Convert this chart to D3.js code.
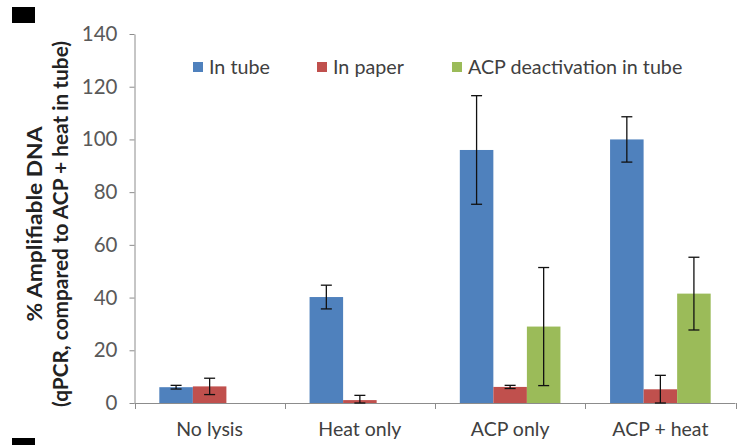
<!DOCTYPE html>
<html>
<head>
<meta charset="utf-8">
<script src="https://cdn.jsdelivr.net/npm/d3@7"></script>
<style>
  html, body { margin: 0; padding: 0; background: #fff; }
  svg { display: block; }
  text { font-family: Lato, "Open Sans", sans-serif; }
</style>
</head>
<body>
<svg id="chart" width="744" height="445"></svg>
<script>
// Lysis conditions along the x axis
const categories = ["No lysis", "Heat only", "ACP only", "ACP + heat"];
// Series names shown in the legend
const seriesNames = ["In tube", "In paper", "ACP deactivation in tube"];
const seriesColors = ["#4F81BD", "#C0504D", "#9BBB59"];

// % amplifiable DNA, with error bar half-widths (null = not measured)
const inTube      = [6.0, 40.2, 96.0, 100.0];
const inTubeErr   = [0.7, 4.5, 20.6, 8.6];
const inPaper     = [6.3, 1.1, 6.1, 5.2];
const inPaperErr  = [3.1, 1.8, 0.6, 5.3];
const acpDeact    = [null, null, 29.0, 41.5];
const acpDeactErr = [null, null, 22.4, 13.8];

const yTicks = [0, 20, 40, 60, 80, 100, 120, 140];

const valuesBySeries = [inTube, inPaper, acpDeact];
const errorsBySeries = [inTubeErr, inPaperErr, acpDeactErr];

const svg = d3.select("#chart");

const plot = { left: 134.5, right: 735.5, top: 34, bottom: 403 };

const y = d3.scaleLinear().domain([0, 140]).range([plot.bottom, plot.top]);
const x = d3.scaleBand().domain(categories).range([plot.left, plot.right]).padding(0);
const xInner = d3.scaleBand().domain(seriesNames).range([0, x.bandwidth()])
  .paddingInner(0).paddingOuter(0.74);

const axisColor = "#8c8c8c";
const tickTextColor = "#595959";

// Panel markers
svg.append("rect").attr("x", 12).attr("y", 7).attr("width", 23).attr("height", 16).attr("fill", "#000");
svg.append("rect").attr("x", 12).attr("y", 438).attr("width", 23).attr("height", 10).attr("fill", "#000");

// Bars
const rows = [];
categories.forEach((c, i) => {
  seriesNames.forEach((s, j) => {
    const v = valuesBySeries[j][i];
    if (v !== null) rows.push({ cat: c, series: s, idx: j, value: v, err: errorsBySeries[j][i] });
  });
});

svg.append("g").selectAll("rect").data(rows).join("rect")
  .attr("x", d => x(d.cat) + xInner(d.series))
  .attr("y", d => y(d.value))
  .attr("width", xInner.bandwidth())
  .attr("height", d => y(0) - y(d.value))
  .attr("fill", d => seriesColors[d.idx]);

// Y axis
const yAxis = svg.append("g")
  .attr("transform", `translate(${plot.left},0)`)
  .call(d3.axisLeft(y).tickValues(yTicks).tickSize(5).tickPadding(12).tickSizeOuter(0));
yAxis.select(".domain").attr("stroke", axisColor);
yAxis.selectAll(".tick line").attr("stroke", axisColor);
yAxis.selectAll(".tick text").attr("fill", tickTextColor).attr("font-size", 20.5)
  .style("font-family", "Lato, sans-serif");

// X axis: labels at band centres, tick marks at band boundaries
const xAxis = svg.append("g")
  .attr("transform", `translate(0,${plot.bottom})`)
  .call(d3.axisBottom(x).tickSize(0).tickPadding(19).tickSizeOuter(0));
xAxis.select(".domain").attr("stroke", axisColor).attr("d", `M${plot.left},0.5H${plot.right}`);
xAxis.selectAll(".tick text").attr("fill", "#404040").attr("font-size", 19.5)
  .style("font-family", "Lato, sans-serif");
const boundaries = categories.map(c => x(c)).concat([x(categories[categories.length - 1]) + x.bandwidth()]);
xAxis.selectAll("line.boundary").data(boundaries).join("line")
  .attr("class", "boundary")
  .attr("x1", d => Math.round(d) + 0.5).attr("x2", d => Math.round(d) + 0.5)
  .attr("y1", 0).attr("y2", 6)
  .attr("stroke", axisColor);

// Error bars
const cap = 5.5;
const eg = svg.append("g").attr("stroke", "#111").attr("stroke-width", 1.3).attr("fill", "none");
rows.forEach(d => {
  const cx = x(d.cat) + xInner(d.series) + xInner.bandwidth() / 2;
  const yHi = y(d.value + d.err);
  const yLo = y(Math.max(0, d.value - d.err));
  eg.append("line").attr("x1", cx).attr("x2", cx).attr("y1", yHi).attr("y2", yLo);
  eg.append("line").attr("x1", cx - cap).attr("x2", cx + cap).attr("y1", yHi).attr("y2", yHi);
  eg.append("line").attr("x1", cx - cap).attr("x2", cx + cap).attr("y1", yLo).attr("y2", yLo);
});

// Legend
const legendX = [193, 317, 452];
const legend = svg.append("g");
seriesNames.forEach((s, j) => {
  const g = legend.append("g").attr("transform", `translate(${legendX[j]},62)`);
  g.append("rect").attr("width", 10).attr("height", 10).attr("fill", seriesColors[j]);
  g.append("text").attr("x", 16).attr("y", 11.5).attr("font-size", 19.7).attr("fill", "#404040").text(s);
});

// Y axis title, two lines
const title = svg.append("g").attr("transform", "translate(0,224) rotate(-90)");
title.append("text").attr("x", 0).attr("y", 42).attr("text-anchor", "middle")
  .attr("font-size", 20).attr("font-weight", "bold").attr("fill", "#222")
  .attr("textLength", 195).attr("lengthAdjust", "spacingAndGlyphs")
  .text("% Amplifiable DNA");
title.append("text").attr("x", 0).attr("y", 68).attr("text-anchor", "middle")
  .attr("font-size", 20).attr("font-weight", "bold").attr("fill", "#222")
  .attr("textLength", 366).attr("lengthAdjust", "spacingAndGlyphs")
  .text("(qPCR, compared to ACP + heat in tube)");
</script>
</body>
</html>
